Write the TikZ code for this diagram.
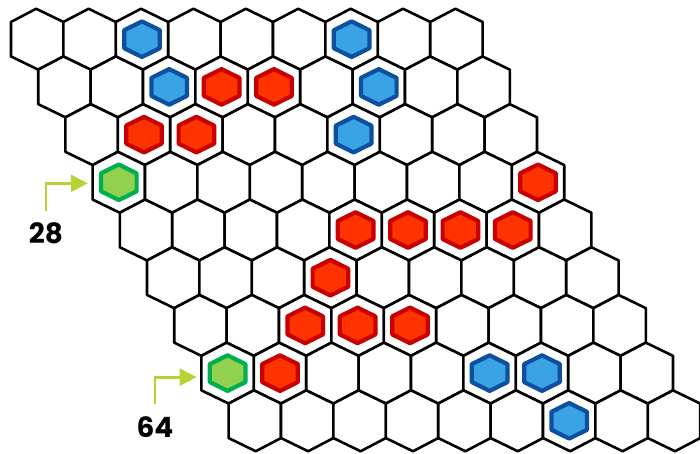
\documentclass[tikz,border=0pt]{standalone}
\usepackage{fontspec}
\setsansfont{Poppins}
\usepackage{tikz}
\usetikzlibrary{arrows.meta,positioning,calc}
\definecolor{bf}{HTML}{3AA3E6}
\definecolor{bd}{HTML}{0D50A0}
\definecolor{rf}{HTML}{FF3300}
\definecolor{rd}{HTML}{C80000}
\definecolor{gf}{HTML}{92D050}
\definecolor{gd}{HTML}{00B050}
\definecolor{pt}{HTML}{B5D334}
\newcommand{\HexCell}[1]{($(#1)+(-26.2,-17.25)$) -- ($(#1)+(-1,-30.45)$) -- ($(#1)+(26.2,-17.25)$) -- ($(#1)+(26.2,17.25)$) -- ($(#1)+(1,30.45)$) -- ($(#1)+(-26.2,17.25)$) -- cycle}
\newcommand{\HexStone}[1]{($(#1)+(-17.8,-9)$) -- ($(#1)+(0,-17.8)$) -- ($(#1)+(17.8,-9)$) -- ($(#1)+(17.8,9)$) -- ($(#1)+(0,17.8)$) -- ($(#1)+(-17.8,9)$) -- cycle}
\tikzset{
  cell/.style={draw=black, line width=2.6pt, line join=round, fill=white},
  stone/.style={line width=4.2pt, line join=round},
  stoneb/.style={stone, fill=bf, draw=bd},
  stoner/.style={stone, fill=rf, draw=rd},
  stoneg/.style={stone, fill=gf, draw=gd},
  lab/.style={font=\fontsize{28}{30}\selectfont\sffamily\bfseries, inner sep=0pt},
  pointer/.style={draw=pt, line width=2.8pt, -{Triangle[length=17pt,width=17pt]}}
}

\begin{document}
\begin{tikzpicture}[x=1pt,y=-1pt]
  \useasboundingbox (0,0) rectangle (700,454);
  \foreach \r in {0,...,8}
    \foreach \c in {0,...,8} {
      \pgfmathtruncatemacro{\n}{9*\r+\c+1}
      \coordinate (c\n) at ({37.2+27.2*\r+52.4*\c},{39.2+47.7*\r});
      \draw[cell] \HexCell{c\n};
    }
  \foreach \n/\k in {3/b,7/b,12/b,13/r,14/r,16/b,20/r,21/r,24/b,28/g,36/r,
                     41/r,42/r,43/r,44/r,49/r,57/r,58/r,59/r,64/g,65/r,69/b,70/b,79/b}
    \draw[stone\k] \HexStone{c\n};
  \node[lab] (l28) at (46,233) {28};
  \node[lab] (l64) at (155,427) {64};
  \coordinate (a28) at ($(c28)+(-31,1)$);
  \coordinate (a64) at ($(c64)+(-31,4)$);
  \draw[pointer] (l28.north) ++(0,-11) |- (a28);
  \draw[pointer] (l64.north) ++(0,-12) |- (a64);
\end{tikzpicture}
\end{document}
